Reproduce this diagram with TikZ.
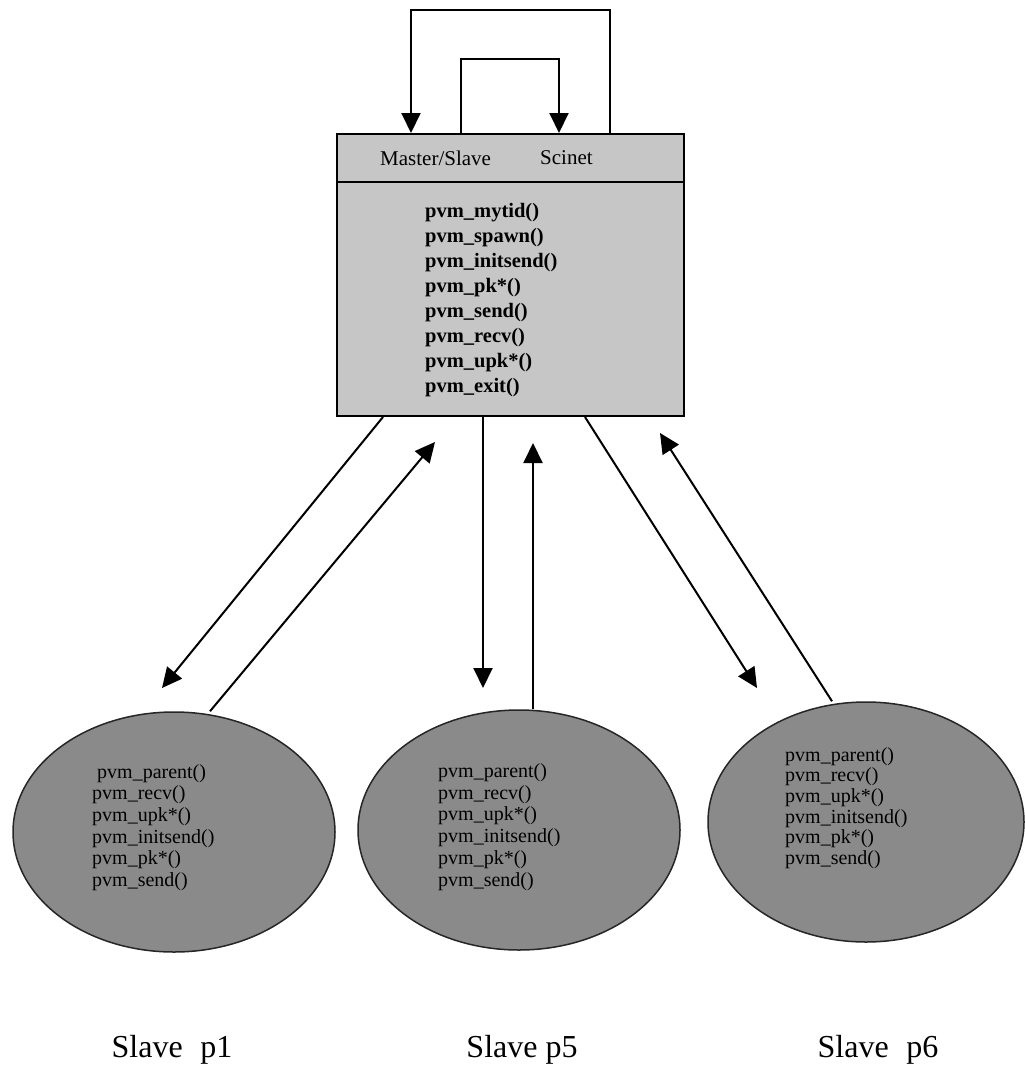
\documentclass[tikz,border=0pt]{standalone}
\usepackage{fontspec}
\setmainfont{Liberation Serif}
\usetikzlibrary{arrows.meta,shapes.geometric}
\definecolor{boxgrey}{HTML}{C6C6C6}
\definecolor{ellgrey}{HTML}{8A8A8A}
\tikzset{
  conn/.style={line width=2pt, -{Triangle[length=20pt,width=19pt]}},
  plain/.style={line width=2pt},
  slave/.style={ellipse, draw=black!85, line width=1.5pt, fill=ellgrey, inner sep=0pt, minimum width=322pt, minimum height=240pt},
  etext/.style={inner sep=0pt, align=left, anchor=west, font=\fontsize{20}{21.7}\selectfont},
  btext/.style={inner sep=0pt, anchor=west, font=\fontsize{21}{25}\selectfont},
  lbl/.style={inner sep=0pt, font=\fontsize{32}{36}\selectfont}
}
\begin{document}
\begin{tikzpicture}[x=1pt,y=-1pt]
\useasboundingbox (0,0) rectangle (1025,1076);
\fill[white] (0,0) rectangle (1025,1076);

% master box
\node[draw, line width=2pt, fill=boxgrey, anchor=north west, inner sep=0pt,
      minimum width=347pt, minimum height=282pt] (box) at (336,133) {};
\draw[plain] ([yshift=-49pt]box.north west) -- ([yshift=-49pt]box.north east);
\node[btext] (ms) at (380,158) {Master/Slave};
\node[btext] (sc) at (540,158) {Scinet};
\node[inner sep=0pt, align=left, anchor=west, font=\bfseries\fontsize{20.5}{25.1}\selectfont] (body) at (425,300)
 {pvm\_mytid()\\pvm\_spawn()\\pvm\_initsend()\\pvm\_pk*()\\pvm\_send()\\pvm\_recv()\\pvm\_upk*()\\pvm\_exit()};

% loops on top
\draw[conn] ([xshift=274pt]box.north west) -- ++(0,-123) -| ([xshift=75pt]box.north west);
\draw[conn] ([xshift=125pt]box.north west) -- ++(0,-74) -| ([xshift=223pt]box.north west);

% slaves
\node[slave] (s1) at (174,832) {};
\node[slave] (s5) at (519,830) {};
\node[slave, minimum width=316pt] (s6) at (866,822) {};

\node[etext] (t1) at (92,827.5) {\hspace{5pt}pvm\_parent()\\pvm\_recv()\\pvm\_upk*()\\pvm\_initsend()\\pvm\_pk*()\\pvm\_send()};
\node[etext] (t5) at (438,827) {pvm\_parent()\\pvm\_recv()\\pvm\_upk*()\\pvm\_initsend()\\pvm\_pk*()\\pvm\_send()};
\node[etext, font=\fontsize{20}{20.7}\selectfont] (t6) at (785,808) {pvm\_parent()\\pvm\_recv()\\pvm\_upk*()\\pvm\_initsend()\\pvm\_pk*()\\pvm\_send()};

\node[lbl] (l1) at (172,1050) {Slave\hspace{0.55em}p1};
\node[lbl] (l5) at (522,1050) {Slave p5};
\node[lbl] (l6) at (878,1050) {Slave\hspace{0.55em}p6};

% arrow tips (free ends)
\coordinate (tL1) at (162,688);
\coordinate (tL2) at (435,442);
\coordinate (tM1) at (483,688);
\coordinate (tM2) at (533,443);
\coordinate (tR1) at (757,688);
\coordinate (tR2) at (660,433);

\draw[conn] ([xshift=47pt]box.south west) -- (tL1);
\draw[conn] ([xshift=36pt]s1.north) -- (tL2);
\draw[conn] ([xshift=147pt]box.south west) -- (tM1);
\draw[conn] ([xshift=14pt]s5.north) -- (tM2);
\draw[conn] ([xshift=249pt]box.south west) -- (tR1);
\draw[conn] ([xshift=-34pt]s6.north) -- (tR2);
\end{tikzpicture}
\end{document}
